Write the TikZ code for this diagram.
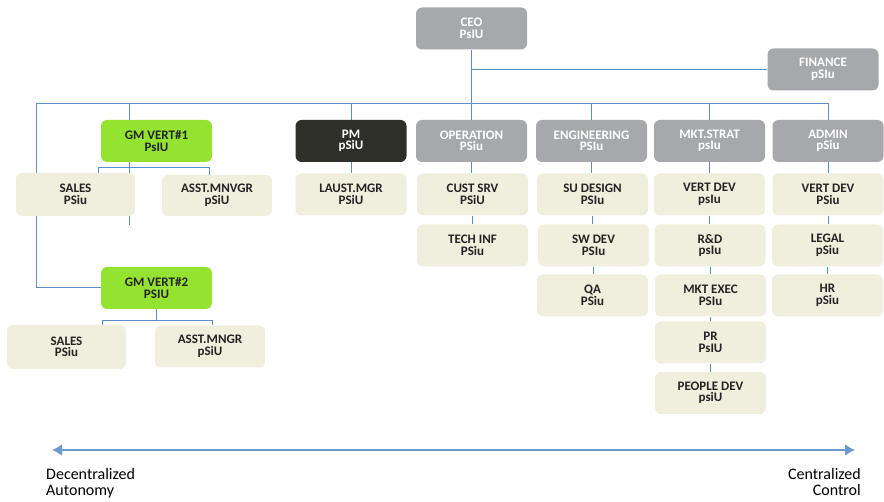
\documentclass[tikz,border=0pt]{standalone}
\usepackage{fontspec}
\setmainfont{Carlito}
\usetikzlibrary{backgrounds,arrows.meta}

\definecolor{boxgray}{HTML}{A7A8AC}
\definecolor{boxgreen}{HTML}{95E331}
\definecolor{boxdark}{HTML}{2F2F2A}
\definecolor{boxbeige}{HTML}{F0EEDC}
\definecolor{linkblue}{HTML}{5B8FCB}
\definecolor{inkdark}{HTML}{232323}

\begin{document}
\begin{tikzpicture}
  [x=1pt,y=-1pt,
   every node/.style={rounded corners=6pt,align=center,inner sep=0pt,
     minimum width=111pt,minimum height=42pt,
     font=\fontsize{13}{11.5}\selectfont\bfseries},
   mgr/.style={fill=boxgray,text=white},
   gm/.style={fill=boxgreen,text=inkdark},
   pmbox/.style={fill=boxdark,text=white},
   unit/.style={fill=boxbeige,text=inkdark},
   link/.style={draw=linkblue,line width=1pt},
   caption/.style={rounded corners=0pt,minimum width=0pt,minimum height=0pt,
     font=\fontsize{16}{16}\selectfont,text=black}]
  \useasboundingbox (0,0) rectangle (884,502);

  % top
  \node[mgr] (ceo) at (471.5,28.5) {CEO\\PsIU};
  \node[mgr] (fin) at (823,69.5) {FINANCE\\pSIu};

  % heads
  \node[gm]    (gm1) at (156.5,141) {GM VERT\#1\\PsIU};
  \node[pmbox] (pm)  at (351,141)   {PM\\pSiU};
  \node[mgr]   (op)  at (471.5,141) {OPERATION\\PSiu};
  \node[mgr]   (eng) at (591.5,141) {ENGINEERING\\PSIu};
  \node[mgr]   (mkt) at (709.5,141) {MKT.STRAT\\psIu};
  \node[mgr]   (adm) at (828,141)   {ADMIN\\pSiu};

  % units
  \node[unit,minimum width=119pt,minimum height=43pt] (sales1) at (75.5,194.5) {SALES\\PSiu};
  \node[unit,minimum width=110pt,minimum height=41pt] (asst1) at (217,195.5) {ASST.MNVGR\\pSiU};
  \node[unit] (laust) at (351,194.5)   {LAUST.MGR\\PSiU};
  \node[unit] (cust)  at (472.5,194.5) {CUST SRV\\PSiU};
  \node[unit] (sud)   at (592.5,194.5) {SU DESIGN\\PSIu};
  \node[unit] (vd1)   at (709.5,194.5) {VERT DEV\\psIu};
  \node[unit] (vd2)   at (828,194.5)   {VERT DEV\\PSiu};
  \node[unit] (tech)  at (472.5,245.5) {TECH INF\\PSiu};
  \node[unit] (swd)   at (593.5,245.5) {SW DEV\\PSIu};
  \node[unit] (rd)    at (710,245.5)   {R\&D\\psIu};
  \node[unit] (legal) at (827.5,245.5) {LEGAL\\pSiu};
  \node[unit] (qa)    at (592.5,295.5) {QA\\PSiu};
  \node[unit] (mex)   at (710.5,295.5) {MKT EXEC\\PSIu};
  \node[unit] (hr)    at (827.5,295.5) {HR\\pSiu};
  \node[unit] (pr)    at (710.5,342.5) {PR\\PsIU};
  \node[unit] (ppl)   at (710.5,393)   {PEOPLE DEV\\psiU};

  \node[gm] (gm2) at (156.5,288) {GM VERT\#2\\PSIU};
  \node[unit,minimum width=119pt,minimum height=44pt] (sales2) at (66.5,347) {SALES\\PSiu};
  \node[unit,minimum width=110pt] (asst2) at (210,346.5) {ASST.MNGR\\pSiU};

  \coordinate (barL) at (36,104);
  \coordinate (gm1top) at (129,104);
  \coordinate (gm1tail) at (129,225);

  \begin{scope}[on background layer]
    \draw[link] (ceo.south) -- (op.north);
    \draw[link] (fin.west) -| (ceo.south);
    \draw[link] (gm2.west) -| (barL) -| (adm.north);
    \foreach \n in {pm,eng,mkt}
      \draw[link] (\n.north) -- (\n.north |- barL);
    \draw[link] (gm1top) -- (gm1tail);
    \draw[link] ([xshift=22.5pt]sales1.north) -- ++(0,-5) -| ([xshift=-8pt]asst1.north);
    \draw[link] (gm2.south) -- ([yshift=-11pt]gm2.south);
    \draw[link] ([xshift=35.5pt]sales2.north) |- ([yshift=-11pt]gm2.south) -| ([xshift=2pt]asst2.north);
    \foreach \a/\b in {pm/laust,op/cust,cust/tech,eng/sud,sud/swd,swd/qa,
        mkt/vd1,vd1/rd,rd/mex,mex/pr,pr/ppl,adm/vd2,vd2/legal,legal/hr}
      \draw[link] (\a.south) -- (\a.south |- \b.north);
  \end{scope}

  % scale
  \coordinate (dec) at (52,450);
  \coordinate (cen) at (855,450);
  \draw[draw=linkblue!90,line width=2pt,{Latex[length=10pt,width=12pt]}-{Latex[length=10pt,width=12pt]}] (dec) -- (cen);
  \node[caption,anchor=north west,align=left] (auto) at (46,468) {Decentralized\\Autonomy};
  \node[caption,anchor=north east,align=right] (ctrl) at (861,468) {Centralized\\Control};
\end{tikzpicture}
\end{document}
